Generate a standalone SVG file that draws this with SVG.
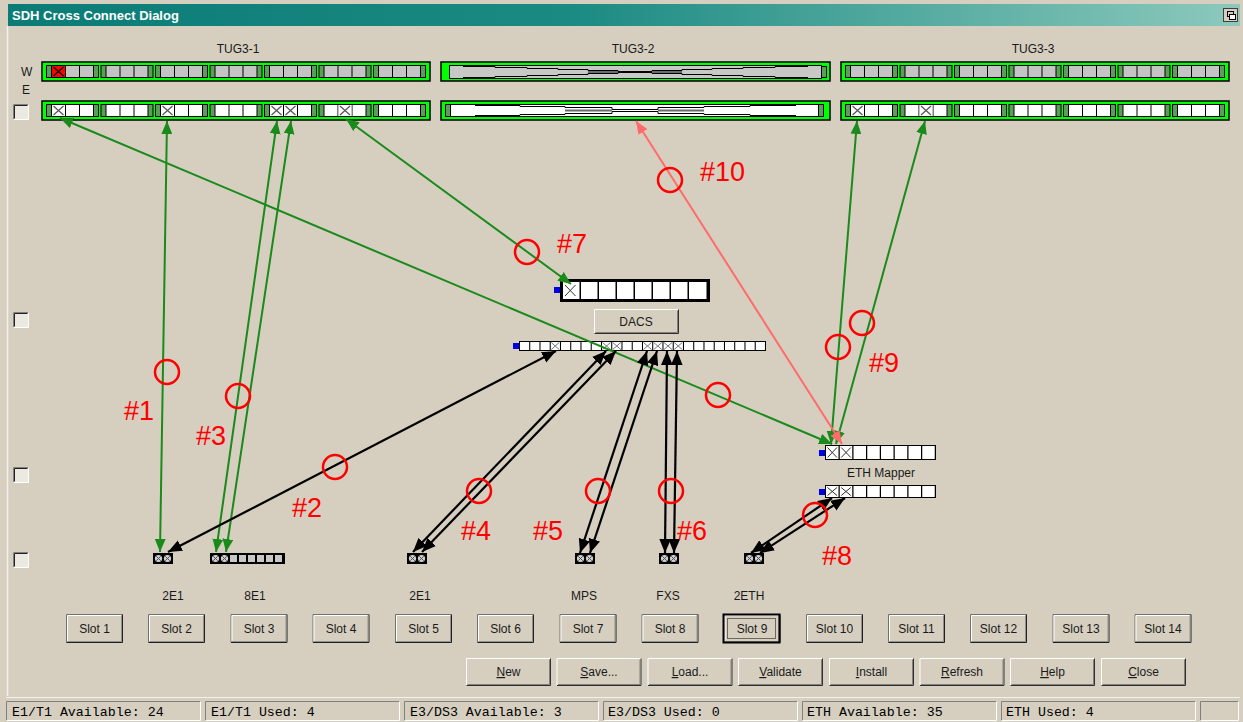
<svg xmlns="http://www.w3.org/2000/svg" width="1243" height="722" viewBox="0 0 1243 722">
  <style>
    .ui { font-family: "Liberation Sans", Arial, sans-serif; font-size: 12px; fill: #1a1a1a; }
    .mid { text-anchor: middle; }
    .mono { font-family: "Liberation Mono", "Courier New", monospace; font-size: 13.3px; fill: #000; }
    .tag { font-family: "Liberation Sans", Arial, sans-serif; font-size: 27px; fill: #ff0000; }
    .ring { fill: none; stroke: #ff0000; stroke-width: 2.5; }
    .bar { fill: #00ff00; stroke: #000; stroke-width: 1.5; }
    .cg { fill: #c4c4c4; }
    .cw { fill: #ffffff; }
    .stripe { fill: #5a9e5a; }
    .blue { fill: #0000e6; }
    .g { stroke: #1a8a1a; stroke-width: 2; fill: none; marker-start: url(#aG); marker-end: url(#aG); }
    .k { stroke: #000; stroke-width: 2.2; fill: none; marker-start: url(#aK); marker-end: url(#aK); }
    .r { stroke: #ff6b6b; stroke-width: 2; fill: none; marker-start: url(#aR); marker-end: url(#aR); }
  </style>
  <defs>
    <linearGradient id="title" x1="0" y1="0" x2="1" y2="0">
      <stop offset="0" stop-color="#0b7b76"/>
      <stop offset="0.45" stop-color="#1a8a82"/>
      <stop offset="1" stop-color="#8cc9bc"/>
    </linearGradient>
    <marker id="aG" viewBox="0 0 12 10" refX="12" refY="5" markerWidth="13" markerHeight="11" markerUnits="userSpaceOnUse" orient="auto-start-reverse">
      <path d="M0,0 L12,5 L0,10 Z" fill="#1a8a1a"/>
    </marker>
    <marker id="aK" viewBox="0 0 12 10" refX="12" refY="5" markerWidth="14" markerHeight="12" markerUnits="userSpaceOnUse" orient="auto-start-reverse">
      <path d="M0,0 L12,5 L0,10 Z" fill="#000"/>
    </marker>
    <marker id="aR" viewBox="0 0 12 10" refX="12" refY="5" markerWidth="13" markerHeight="11" markerUnits="userSpaceOnUse" orient="auto-start-reverse">
      <path d="M0,0 L12,5 L0,10 Z" fill="#ff6b6b"/>
    </marker>
    <!-- one TU-12 group: end stripes and three channel cells -->
    <g id="grpW">
      <rect width="53" height="13" fill="#000"/>
      <rect x="1" y="1" width="4" height="11" class="stripe"/>
      <rect x="6" y="1" width="13" height="11" class="cg"/>
      <rect x="20" y="1" width="13" height="11" class="cg"/>
      <rect x="34" y="1" width="13" height="11" class="cg"/>
      <rect x="48" y="1" width="4" height="11" class="stripe"/>
    </g>
    <g id="grpE">
      <rect width="53" height="13" fill="#000"/>
      <rect x="1" y="1" width="4" height="11" class="stripe"/>
      <rect x="6" y="1" width="13" height="11" class="cw"/>
      <rect x="20" y="1" width="13" height="11" class="cw"/>
      <rect x="34" y="1" width="13" height="11" class="cw"/>
      <rect x="48" y="1" width="4" height="11" class="stripe"/>
    </g>
    <g id="xc">
      <rect width="13" height="11" fill="#fff"/>
      <path d="M1.5,1 L11.5,10 M11.5,1 L1.5,10" stroke="#555" stroke-width="1.2"/>
    </g>
    <g id="xs">
      <path d="M0.5,0.5 L8.5,7.5 M8.5,0.5 L0.5,7.5" stroke="#777" stroke-width="1"/>
    </g>
    <g id="xm">
      <path d="M1,1 L11.5,12 M11.5,1 L1,12" stroke="#333" stroke-width="1"/>
    </g>
    <g id="cx">
      <circle r="3.6" fill="#d0d0d0"/>
      <path d="M-2.2,-2.2 L2.2,2.2 M2.2,-2.2 L-2.2,2.2" stroke="#444" stroke-width="0.9"/>
    </g>
    <g id="slotBtn">
      <rect width="57" height="29" fill="#d6cfc0"/>
      <path d="M0.5,28.5 V0.5 H56.5" stroke="#707070" fill="none"/>
      <path d="M0.5,28.5 H56.5 V0.5" stroke="#202020" fill="none"/>
      <path d="M1.5,27 V1.5 H55" stroke="#ffffff" fill="none"/>
      <path d="M1.5,27.5 H55.5 V1.5" stroke="#909090" fill="none"/>
    </g>
    <g id="cmdBtn">
      <rect width="85" height="28" fill="#d6cfc0"/>
      <path d="M0.5,27.5 V0.5 H84.5" stroke="#ffffff" fill="none"/>
      <path d="M0.5,27.5 H84.5 V0.5" stroke="#303030" fill="none"/>
      <path d="M1.5,26.5 H83.5 V1.5" stroke="#808080" fill="none"/>
    </g>
    <g id="chk">
      <rect width="16" height="16" fill="#ece9e0"/>
      <path d="M0.5,15.5 V0.5 H15.5" stroke="#808080" fill="none"/>
      <path d="M1.5,14.5 V1.5 H14.5" stroke="#202020" fill="none"/>
      <path d="M0.5,15.5 H15.5 V0.5" stroke="#ffffff" fill="none"/>
    </g>
    <g id="pane">
      <path d="M0.5,19.5 V0.5 H194.5" stroke="#808080" fill="none"/>
      <path d="M0.5,19.5 H194.5 V0.5" stroke="#ffffff" fill="none"/>
    </g>
  </defs>

  <!-- window body -->
  <rect width="1243" height="722" fill="#d6cfc0"/>
  <path d="M7.5,26 V696" stroke="#f4f1ea" stroke-width="1.5"/>
  <path d="M6,697.5 H1240" stroke="#f4f1ea"/>

  <!-- title bar -->
  <g id="titlebar">
    <rect x="8" y="4" width="1232" height="22" fill="url(#title)"/>
    <text x="12" y="20" font-family="Liberation Sans, Arial, sans-serif" font-size="13" font-weight="bold" fill="#fff">SDH Cross Connect Dialog</text>
    <rect x="1223.5" y="8.5" width="14" height="13" fill="#d6cfc0" stroke="#404040"/>
    <rect x="1227.5" y="11.5" width="6" height="5" fill="none" stroke="#000"/>
    <rect x="1229.5" y="14.5" width="6" height="5" fill="#fff" stroke="#000"/>
  </g>

  <!-- side labels and checkboxes -->
  <text class="ui" x="21" y="76">W</text>
  <text class="ui" x="22" y="94">E</text>
  <use href="#chk" x="13" y="104"/>
  <use href="#chk" x="13" y="312"/>
  <use href="#chk" x="13" y="467"/>
  <use href="#chk" x="13" y="552"/>

  <!-- TUG3-1 -->
  <g id="tug3-1">
    <text class="ui mid" x="238" y="53">TUG3-1</text>
    <rect class="bar" x="42" y="62" width="388" height="19"/>
    <use href="#grpW" x="46" y="65"/>
    <use href="#grpW" x="100.5" y="65"/>
    <use href="#grpW" x="155" y="65"/>
    <use href="#grpW" x="209.5" y="65"/>
    <use href="#grpW" x="264" y="65"/>
    <use href="#grpW" x="318.5" y="65"/>
    <use href="#grpW" x="373" y="65"/>
    <rect x="52" y="66" width="13" height="11" fill="#ff0000"/>
    <path d="M53.5,67 L63.5,76 M63.5,67 L53.5,76" stroke="#000" stroke-width="1.2"/>
    <rect class="bar" x="42" y="101" width="388" height="19"/>
    <use href="#grpE" x="46" y="104"/>
    <use href="#grpE" x="100.5" y="104"/>
    <use href="#grpE" x="155" y="104"/>
    <use href="#grpE" x="209.5" y="104"/>
    <use href="#grpE" x="264" y="104"/>
    <use href="#grpE" x="318.5" y="104"/>
    <use href="#grpE" x="373" y="104"/>
    <use href="#xc" x="52" y="105"/>
    <use href="#xc" x="161" y="105"/>
    <use href="#xc" x="270" y="105"/>
    <use href="#xc" x="284" y="105"/>
    <use href="#xc" x="338.5" y="105"/>
  </g>

  <!-- TUG3-2 (collapsed view) -->
  <g id="tug3-2">
    <text class="ui mid" x="633" y="53">TUG3-2</text>
    <rect class="bar" x="441" y="62" width="389" height="19"/>
    <rect x="449.5" y="65.5" width="372" height="13" fill="#c8c8c8" stroke="#000"/>
    <rect x="821.5" y="66.5" width="5" height="11" class="stripe" stroke="#000"/>
    <path d="M463,66.5 H495 V67.5 H527 V68.5 H558 V69.5 H588 V70.5 H618 V71.5 H652 V70.5 H682 V69.5 H712 V68.5 H743 V67.5 H775 V66.5 H808" fill="none" stroke="#000"/>
    <path d="M463,77.5 H495 V76.5 H527 V75.5 H558 V74.5 H588 V73.5 H618 V72.5 H652 V73.5 H682 V74.5 H712 V75.5 H743 V76.5 H775 V77.5 H808" fill="none" stroke="#000"/>
    <path d="M588,72 H618 M652,72 H682" stroke="#6a6a6a" stroke-width="2"/>
    <rect class="bar" x="441" y="101" width="389" height="19"/>
    <rect x="445.5" y="104.5" width="5" height="12" class="stripe" stroke="#000"/>
    <rect x="450.5" y="104.5" width="368" height="12" fill="#fff" stroke="#000"/>
    <rect x="818.5" y="104.5" width="5" height="12" class="stripe" stroke="#000"/>
    <path d="M475,105.5 H520 V106.5 H565 V107.5 H612 V109.5 H658 V107.5 H704 V106.5 H750 V105.5 H796" fill="none" stroke="#000"/>
    <path d="M475,115.5 H520 V114.5 H565 V113.5 H612 V111.5 H658 V113.5 H704 V114.5 H750 V115.5 H796" fill="none" stroke="#000"/>
    <path d="M565,110.5 H612 M658,110.5 H704" stroke="#6a6a6a" stroke-width="2"/>
  </g>

  <!-- TUG3-3 -->
  <g id="tug3-3">
    <text class="ui mid" x="1033" y="53">TUG3-3</text>
    <rect class="bar" x="841" y="62" width="388" height="19"/>
    <use href="#grpW" x="845" y="65"/>
    <use href="#grpW" x="899.5" y="65"/>
    <use href="#grpW" x="954" y="65"/>
    <use href="#grpW" x="1008.5" y="65"/>
    <use href="#grpW" x="1063" y="65"/>
    <use href="#grpW" x="1117.5" y="65"/>
    <use href="#grpW" x="1172" y="65"/>
    <rect class="bar" x="841" y="101" width="388" height="19"/>
    <use href="#grpE" x="845" y="104"/>
    <use href="#grpE" x="899.5" y="104"/>
    <use href="#grpE" x="954" y="104"/>
    <use href="#grpE" x="1008.5" y="104"/>
    <use href="#grpE" x="1063" y="104"/>
    <use href="#grpE" x="1117.5" y="104"/>
    <use href="#grpE" x="1172" y="104"/>
    <use href="#xc" x="851" y="105"/>
    <use href="#xc" x="919.5" y="105"/>
  </g>

  <!-- DACS -->
  <g id="dacs">
    <rect class="blue" x="554" y="287" width="6" height="6"/>
    <rect x="560" y="279" width="150" height="23" fill="#000"/>
    <rect x="563" y="282" width="16.5" height="17" fill="#fff"/>
    <rect x="581" y="282" width="16.5" height="17" fill="#fff"/>
    <rect x="599" y="282" width="16.5" height="17" fill="#fff"/>
    <rect x="617" y="282" width="16.5" height="17" fill="#fff"/>
    <rect x="635" y="282" width="16.5" height="17" fill="#fff"/>
    <rect x="653" y="282" width="16.5" height="17" fill="#fff"/>
    <rect x="671" y="282" width="16.5" height="17" fill="#fff"/>
    <rect x="689" y="282" width="17.5" height="17" fill="#fff"/>
    <use href="#xm" x="564" y="284"/>
    <rect x="594" y="309" width="85" height="25" fill="#d6cfc0"/>
    <path d="M594.5,333.5 V309.5 H678.5" stroke="#fff" fill="none"/>
    <path d="M594.5,333.5 H678.5 V309.5" stroke="#303030" fill="none"/>
    <path d="M595.5,332.5 H677.5 V310.5" stroke="#808080" fill="none"/>
    <text class="ui mid" x="636" y="326">DACS</text>
    <rect class="blue" x="513" y="343" width="6" height="6"/>
    <rect x="519" y="341" width="247" height="10" fill="#000"/>
    <rect x="520" y="342" width="9.2" height="8" fill="#fff"/>
    <rect x="530.25" y="342" width="9.2" height="8" fill="#fff"/>
    <rect x="540.5" y="342" width="9.2" height="8" fill="#fff"/>
    <rect x="550.75" y="342" width="9.2" height="8" fill="#fff"/>
    <rect x="561" y="342" width="9.2" height="8" fill="#fff"/>
    <rect x="571.25" y="342" width="9.2" height="8" fill="#fff"/>
    <rect x="581.5" y="342" width="9.2" height="8" fill="#fff"/>
    <rect x="591.75" y="342" width="9.2" height="8" fill="#fff"/>
    <rect x="602" y="342" width="9.2" height="8" fill="#fff"/>
    <rect x="612.25" y="342" width="9.2" height="8" fill="#fff"/>
    <rect x="622.5" y="342" width="9.2" height="8" fill="#fff"/>
    <rect x="632.75" y="342" width="9.2" height="8" fill="#fff"/>
    <rect x="643" y="342" width="9.2" height="8" fill="#fff"/>
    <rect x="653.25" y="342" width="9.2" height="8" fill="#fff"/>
    <rect x="663.5" y="342" width="9.2" height="8" fill="#fff"/>
    <rect x="673.75" y="342" width="9.2" height="8" fill="#fff"/>
    <rect x="684" y="342" width="9.2" height="8" fill="#fff"/>
    <rect x="694.25" y="342" width="9.2" height="8" fill="#fff"/>
    <rect x="704.5" y="342" width="9.2" height="8" fill="#fff"/>
    <rect x="714.75" y="342" width="9.2" height="8" fill="#fff"/>
    <rect x="725" y="342" width="9.2" height="8" fill="#fff"/>
    <rect x="735.25" y="342" width="9.2" height="8" fill="#fff"/>
    <rect x="745.5" y="342" width="9.2" height="8" fill="#fff"/>
    <rect x="755.75" y="342" width="9.2" height="8" fill="#fff"/>
    <use href="#xs" x="550.75" y="342"/>
    <use href="#xs" x="602" y="342"/>
    <use href="#xs" x="612.25" y="342"/>
    <use href="#xs" x="643" y="342"/>
    <use href="#xs" x="653.25" y="342"/>
    <use href="#xs" x="663.5" y="342"/>
    <use href="#xs" x="673.75" y="342"/>
  </g>

  <!-- ETH Mapper -->
  <g id="eth-mapper">
    <rect class="blue" x="819" y="450" width="6" height="6"/>
    <rect x="825" y="445" width="111" height="15" fill="#000"/>
    <rect x="826" y="446" width="12.5" height="13" fill="#fff"/>
    <rect x="839.75" y="446" width="12.5" height="13" fill="#fff"/>
    <rect x="853.5" y="446" width="12.5" height="13" fill="#fff"/>
    <rect x="867.25" y="446" width="12.5" height="13" fill="#fff"/>
    <rect x="881" y="446" width="12.5" height="13" fill="#fff"/>
    <rect x="894.75" y="446" width="12.5" height="13" fill="#fff"/>
    <rect x="908.5" y="446" width="12.5" height="13" fill="#fff"/>
    <rect x="922.25" y="446" width="12.5" height="13" fill="#fff"/>
    <path d="M827.5,447.5 L837,457.5 M837,447.5 L827.5,457.5 M841.2,447.5 L850.8,457.5 M850.8,447.5 L841.2,457.5" stroke="#333"/>
    <text class="ui mid" x="881" y="477">ETH Mapper</text>
    <rect class="blue" x="819" y="489" width="6" height="6"/>
    <rect x="825" y="485" width="111" height="13" fill="#000"/>
    <rect x="826" y="486" width="12.5" height="11" fill="#fff"/>
    <rect x="839.75" y="486" width="12.5" height="11" fill="#fff"/>
    <rect x="853.5" y="486" width="12.5" height="11" fill="#fff"/>
    <rect x="867.25" y="486" width="12.5" height="11" fill="#fff"/>
    <rect x="881" y="486" width="12.5" height="11" fill="#fff"/>
    <rect x="894.75" y="486" width="12.5" height="11" fill="#fff"/>
    <rect x="908.5" y="486" width="12.5" height="11" fill="#fff"/>
    <rect x="922.25" y="486" width="12.5" height="11" fill="#fff"/>
    <path d="M827.5,487.5 L837,495.5 M837,487.5 L827.5,495.5 M841.2,487.5 L850.8,495.5 M850.8,487.5 L841.2,495.5" stroke="#333"/>
  </g>

  <!-- card ports -->
  <g id="card-slot2">
    <rect x="153" y="553" width="20" height="11" fill="#000"/>
    <use href="#cx" x="158.5" y="558.5"/>
    <use href="#cx" x="167.5" y="558.5"/>
    <text class="ui mid" x="173" y="600">2E1</text>
  </g>
  <g id="card-slot3">
    <rect x="210" y="553" width="75" height="11" fill="#000"/>
    <use href="#cx" x="215.5" y="558.5"/>
    <use href="#cx" x="224.5" y="558.5"/>
    <rect x="230" y="555" width="7" height="7" fill="#c8c8c8"/>
    <rect x="239" y="555" width="7" height="7" fill="#c8c8c8"/>
    <rect x="248" y="555" width="7" height="7" fill="#c8c8c8"/>
    <rect x="257" y="555" width="7" height="7" fill="#c8c8c8"/>
    <rect x="266" y="555" width="7" height="7" fill="#c8c8c8"/>
    <rect x="275" y="555" width="7" height="7" fill="#c8c8c8"/>
    <text class="ui mid" x="255" y="600">8E1</text>
  </g>
  <g id="card-slot5">
    <rect x="407" y="553" width="20" height="11" fill="#000"/>
    <use href="#cx" x="412.5" y="558.5"/>
    <use href="#cx" x="421.5" y="558.5"/>
    <text class="ui mid" x="420" y="600">2E1</text>
  </g>
  <g id="card-slot7">
    <rect x="575" y="553" width="20" height="11" fill="#000"/>
    <use href="#cx" x="580.5" y="558.5"/>
    <use href="#cx" x="589.5" y="558.5"/>
    <text class="ui mid" x="584" y="600">MPS</text>
  </g>
  <g id="card-slot8">
    <rect x="659" y="553" width="20" height="11" fill="#000"/>
    <use href="#cx" x="664.5" y="558.5"/>
    <use href="#cx" x="673.5" y="558.5"/>
    <text class="ui mid" x="668" y="600">FXS</text>
  </g>
  <g id="card-slot9">
    <rect x="744" y="553" width="20" height="11" fill="#000"/>
    <use href="#cx" x="749.5" y="558.5"/>
    <use href="#cx" x="758.5" y="558.5"/>
    <text class="ui mid" x="749" y="600">2ETH</text>
  </g>

  <!-- slot buttons -->
  <g id="slots">
    <g id="slot1"><use href="#slotBtn" x="66" y="614"/><text class="ui mid" x="94.5" y="633">Slot 1</text></g>
    <g id="slot2"><use href="#slotBtn" x="148" y="614"/><text class="ui mid" x="176.5" y="633">Slot 2</text></g>
    <g id="slot3"><use href="#slotBtn" x="230.5" y="614"/><text class="ui mid" x="259" y="633">Slot 3</text></g>
    <g id="slot4"><use href="#slotBtn" x="312.5" y="614"/><text class="ui mid" x="341" y="633">Slot 4</text></g>
    <g id="slot5"><use href="#slotBtn" x="395" y="614"/><text class="ui mid" x="423.5" y="633">Slot 5</text></g>
    <g id="slot6"><use href="#slotBtn" x="477" y="614"/><text class="ui mid" x="505.5" y="633">Slot 6</text></g>
    <g id="slot7"><use href="#slotBtn" x="559.5" y="614"/><text class="ui mid" x="588" y="633">Slot 7</text></g>
    <g id="slot8"><use href="#slotBtn" x="641.5" y="614"/><text class="ui mid" x="670" y="633">Slot 8</text></g>
    <g id="slot9">
      <use href="#slotBtn" x="723.5" y="614"/>
      <rect x="723.5" y="614.5" width="56" height="28" fill="none" stroke="#000" stroke-width="2"/>
      <rect x="727.5" y="618.5" width="48" height="20" fill="none" stroke="#000" stroke-dasharray="1 1"/>
      <text class="ui mid" x="752" y="633">Slot 9</text>
    </g>
    <g id="slot10"><use href="#slotBtn" x="806" y="614"/><text class="ui mid" x="834.5" y="633">Slot 10</text></g>
    <g id="slot11"><use href="#slotBtn" x="888" y="614"/><text class="ui mid" x="916.5" y="633">Slot 11</text></g>
    <g id="slot12"><use href="#slotBtn" x="970" y="614"/><text class="ui mid" x="998.5" y="633">Slot 12</text></g>
    <g id="slot13"><use href="#slotBtn" x="1052.5" y="614"/><text class="ui mid" x="1081" y="633">Slot 13</text></g>
    <g id="slot14"><use href="#slotBtn" x="1134.5" y="614"/><text class="ui mid" x="1163" y="633">Slot 14</text></g>
  </g>

  <!-- command buttons -->
  <g id="commands">
    <g id="btn-new"><use href="#cmdBtn" x="466" y="658"/><text class="ui mid" x="508.5" y="676"><tspan text-decoration="underline">N</tspan>ew</text></g>
    <g id="btn-save"><use href="#cmdBtn" x="556.5" y="658"/><text class="ui mid" x="599" y="676"><tspan text-decoration="underline">S</tspan>ave...</text></g>
    <g id="btn-load"><use href="#cmdBtn" x="647.5" y="658"/><text class="ui mid" x="690" y="676"><tspan text-decoration="underline">L</tspan>oad...</text></g>
    <g id="btn-validate"><use href="#cmdBtn" x="738" y="658"/><text class="ui mid" x="780.5" y="676"><tspan text-decoration="underline">V</tspan>alidate</text></g>
    <g id="btn-install"><use href="#cmdBtn" x="829" y="658"/><text class="ui mid" x="871.5" y="676"><tspan text-decoration="underline">I</tspan>nstall</text></g>
    <g id="btn-refresh"><use href="#cmdBtn" x="919.5" y="658"/><text class="ui mid" x="962" y="676"><tspan text-decoration="underline">R</tspan>efresh</text></g>
    <g id="btn-help"><use href="#cmdBtn" x="1010" y="658"/><text class="ui mid" x="1052.5" y="676"><tspan text-decoration="underline">H</tspan>elp</text></g>
    <g id="btn-close"><use href="#cmdBtn" x="1101" y="658"/><text class="ui mid" x="1143.5" y="676"><tspan text-decoration="underline">C</tspan>lose</text></g>
  </g>

  <!-- status bar -->
  <g id="status">
    <use href="#pane" x="6" y="701"/><text class="mono" x="12" y="716">E1/T1 Available: 24</text>
    <use href="#pane" x="205" y="701"/><text class="mono" x="211" y="716">E1/T1 Used: 4</text>
    <use href="#pane" x="404" y="701"/><text class="mono" x="410" y="716">E3/DS3 Available: 3</text>
    <use href="#pane" x="603" y="701"/><text class="mono" x="608" y="716">E3/DS3 Used: 0</text>
    <use href="#pane" x="802" y="701"/><text class="mono" x="807" y="716">ETH Available: 35</text>
    <use href="#pane" x="1001" y="701"/><text class="mono" x="1006" y="716">ETH Used: 4</text>
    <path d="M1200.5,720.5 V701.5 H1238.5" stroke="#808080" fill="none"/>
    <path d="M1200.5,720.5 H1238.5 V701.5" stroke="#fff" fill="none"/>
  </g>

  <!-- cross connections -->
  <g id="connectors">
    <line class="g" x1="167" y1="121" x2="160" y2="552"/>
    <line class="g" x1="60" y1="118" x2="832" y2="444"/>
    <line class="g" x1="277" y1="121" x2="216" y2="552"/>
    <line class="g" x1="291" y1="121" x2="226" y2="552"/>
    <line class="g" x1="346" y1="119" x2="571" y2="284"/>
    <line class="g" x1="857" y1="121" x2="831" y2="444"/>
    <line class="g" x1="925" y1="121" x2="836" y2="444"/>
    <line class="r" x1="636" y1="121" x2="842" y2="444"/>
    <line class="k" x1="556" y1="351" x2="168" y2="552"/>
    <line class="k" x1="606" y1="351" x2="413" y2="552"/>
    <line class="k" x1="616" y1="351" x2="422" y2="552"/>
    <line class="k" x1="647" y1="351" x2="580" y2="553"/>
    <line class="k" x1="657" y1="351" x2="590" y2="553"/>
    <line class="k" x1="667" y1="351" x2="665" y2="553"/>
    <line class="k" x1="677" y1="351" x2="674" y2="553"/>
    <line class="k" x1="832" y1="498" x2="751" y2="553"/>
    <line class="k" x1="845" y1="498" x2="760" y2="553"/>
  </g>

  <!-- numbered markers -->
  <g id="markers">
    <circle class="ring" cx="167" cy="372" r="12"/>
    <circle class="ring" cx="238" cy="396" r="12"/>
    <circle class="ring" cx="335" cy="467" r="12"/>
    <circle class="ring" cx="479" cy="491" r="12"/>
    <circle class="ring" cx="598" cy="491" r="12"/>
    <circle class="ring" cx="671" cy="491" r="12"/>
    <circle class="ring" cx="527" cy="252" r="12"/>
    <circle class="ring" cx="815" cy="515" r="12"/>
    <circle class="ring" cx="838" cy="347" r="12"/>
    <circle class="ring" cx="862" cy="323" r="12"/>
    <circle class="ring" cx="670" cy="180" r="12"/>
    <circle class="ring" cx="718" cy="395" r="12"/>
    <text class="tag" x="124" y="420">#1</text>
    <text class="tag" x="292" y="517">#2</text>
    <text class="tag" x="196" y="445">#3</text>
    <text class="tag" x="461" y="540">#4</text>
    <text class="tag" x="533" y="540">#5</text>
    <text class="tag" x="677" y="540">#6</text>
    <text class="tag" x="557" y="253">#7</text>
    <text class="tag" x="822" y="565">#8</text>
    <text class="tag" x="869" y="372">#9</text>
    <text class="tag" x="700" y="181">#10</text>
  </g>
</svg>
